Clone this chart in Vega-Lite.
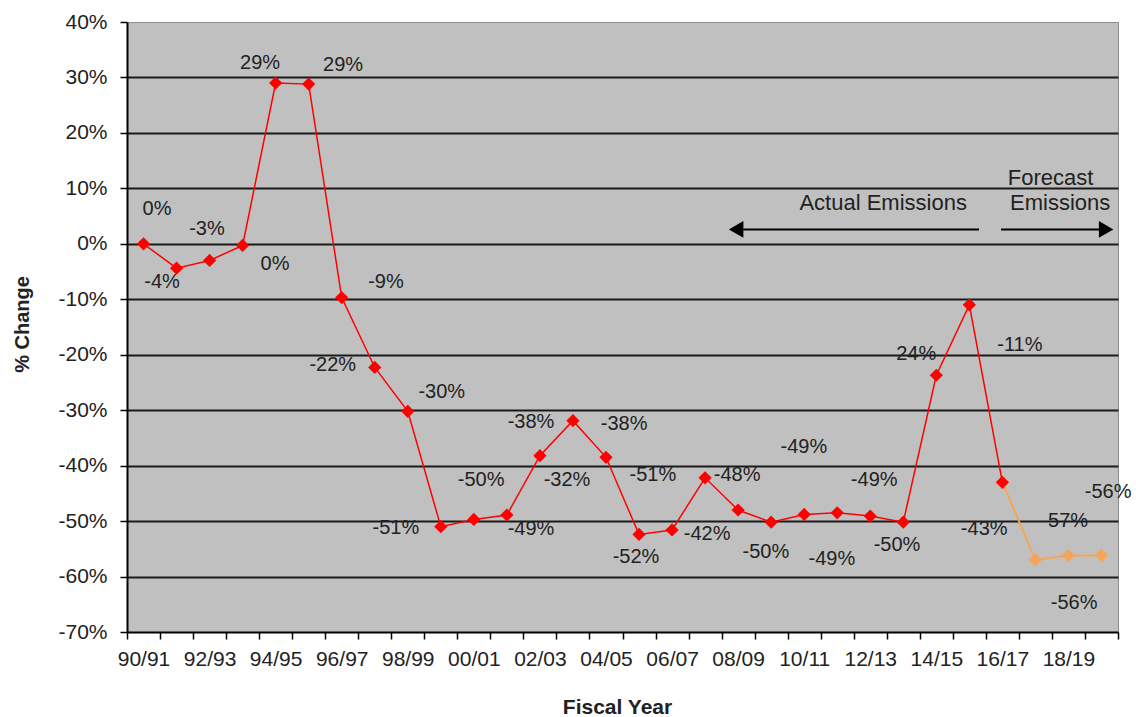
{
  "$schema": "https://vega.github.io/schema/vega-lite/v6.json",
  "width": 991,
  "height": 610,
  "autosize": {"type": "none"},
  "padding": {"left": 127, "top": 22, "right": 18, "bottom": 85},
  "background": "white",
  "config": {
    "view": {"fill": "#C0C0C0", "stroke": "#8C8C8C", "strokeWidth": 1},
    "font": "Liberation Sans"
  },
  "datasets": {
    "points": [
      {"idx": 0, "year": "90/91", "value": 0, "phase": "Actual"},
      {"idx": 1, "year": "91/92", "value": -4.4, "phase": "Actual"},
      {"idx": 2, "year": "92/93", "value": -3.0, "phase": "Actual"},
      {"idx": 3, "year": "93/94", "value": -0.3, "phase": "Actual"},
      {"idx": 4, "year": "94/95", "value": 29.0, "phase": "Actual"},
      {"idx": 5, "year": "95/96", "value": 28.8, "phase": "Actual"},
      {"idx": 6, "year": "96/97", "value": -9.7, "phase": "Actual"},
      {"idx": 7, "year": "97/98", "value": -22.3, "phase": "Actual"},
      {"idx": 8, "year": "98/99", "value": -30.2, "phase": "Actual"},
      {"idx": 9, "year": "99/00", "value": -51.0, "phase": "Actual"},
      {"idx": 10, "year": "00/01", "value": -49.7, "phase": "Actual"},
      {"idx": 11, "year": "01/02", "value": -48.9, "phase": "Actual"},
      {"idx": 12, "year": "02/03", "value": -38.2, "phase": "Actual"},
      {"idx": 13, "year": "03/04", "value": -31.9, "phase": "Actual"},
      {"idx": 14, "year": "04/05", "value": -38.5, "phase": "Actual"},
      {"idx": 15, "year": "05/06", "value": -52.4, "phase": "Actual"},
      {"idx": 16, "year": "06/07", "value": -51.6, "phase": "Actual"},
      {"idx": 17, "year": "07/08", "value": -42.2, "phase": "Actual"},
      {"idx": 18, "year": "08/09", "value": -48.0, "phase": "Actual"},
      {"idx": 19, "year": "09/10", "value": -50.2, "phase": "Actual"},
      {"idx": 20, "year": "10/11", "value": -48.8, "phase": "Actual"},
      {"idx": 21, "year": "11/12", "value": -48.5, "phase": "Actual"},
      {"idx": 22, "year": "12/13", "value": -49.1, "phase": "Actual"},
      {"idx": 23, "year": "13/14", "value": -50.2, "phase": "Actual"},
      {"idx": 24, "year": "14/15", "value": -23.7, "phase": "Actual"},
      {"idx": 25, "year": "15/16", "value": -11.0, "phase": "Actual"},
      {"idx": 26, "year": "16/17", "value": -43.0, "phase": "Actual"},
      {"idx": 27, "year": "17/18", "value": -57.0, "phase": "Forecast"},
      {"idx": 28, "year": "18/19", "value": -56.2, "phase": "Forecast"},
      {"idx": 29, "year": "19/20", "value": -56.2, "phase": "Forecast"}
    ],
    "labels": [
      {"idx": 0.41, "value": 6.2, "text": "0%"},
      {"idx": 0.56, "value": -6.8, "text": "-4%"},
      {"idx": 1.92, "value": 2.7, "text": "-3%"},
      {"idx": 3.98, "value": -3.7, "text": "0%"},
      {"idx": 3.53, "value": 32.6, "text": "29%"},
      {"idx": 6.04, "value": 32.3, "text": "29%"},
      {"idx": 7.34, "value": -6.8, "text": "-9%"},
      {"idx": 5.73, "value": -21.8, "text": "-22%"},
      {"idx": 7.64, "value": -51.3, "text": "-51%"},
      {"idx": 9.03, "value": -26.8, "text": "-30%"},
      {"idx": 10.22, "value": -42.5, "text": "-50%"},
      {"idx": 11.73, "value": -51.5, "text": "-49%"},
      {"idx": 11.73, "value": -32.2, "text": "-38%"},
      {"idx": 12.82, "value": -42.6, "text": "-32%"},
      {"idx": 14.55, "value": -32.5, "text": "-38%"},
      {"idx": 15.42, "value": -41.7, "text": "-51%"},
      {"idx": 14.91, "value": -56.5, "text": "-52%"},
      {"idx": 17.06, "value": -52.4, "text": "-42%"},
      {"idx": 17.97, "value": -41.6, "text": "-48%"},
      {"idx": 18.84, "value": -55.6, "text": "-50%"},
      {"idx": 19.99, "value": -36.7, "text": "-49%"},
      {"idx": 20.84, "value": -56.9, "text": "-49%"},
      {"idx": 22.12, "value": -42.6, "text": "-49%"},
      {"idx": 22.81, "value": -54.3, "text": "-50%"},
      {"idx": 23.39, "value": -19.9, "text": "24%"},
      {"idx": 26.53, "value": -18.3, "text": "-11%"},
      {"idx": 25.45, "value": -51.5, "text": "-43%"},
      {"idx": 27.99, "value": -49.9, "text": "57%"},
      {"idx": 29.2, "value": -44.8, "text": "-56%"},
      {"idx": 28.17, "value": -64.7, "text": "-56%"}
    ],
    "notes": [
      {"idx": 22.39, "value": 6.13, "text": "Actual Emissions"},
      {"idx": 27.46, "value": 10.6, "text": "Forecast"},
      {"idx": 27.75, "value": 6.13, "text": "Emissions"}
    ],
    "arrows": [
      {"idx": 17.94, "idx2": 25.29, "value": 2.6},
      {"idx": 25.96, "idx2": 29.14, "value": 2.6}
    ],
    "heads": [
      {"idx": 17.94, "value": 2.6, "shape": "triangle-left"},
      {"idx": 29.14, "value": 2.6, "shape": "triangle-right"}
    ]
  },
  "encoding": {
    "x": {
      "field": "idx",
      "type": "quantitative",
      "scale": {"domain": [-0.5, 29.5], "nice": false, "zero": false},
      "axis": {
        "title": "Fiscal Year",
        "values": [-0.5, 0, 0.5, 1, 1.5, 2, 2.5, 3, 3.5, 4, 4.5, 5, 5.5, 6, 6.5, 7, 7.5, 8, 8.5, 9, 9.5, 10, 10.5, 11, 11.5, 12, 12.5, 13, 13.5, 14, 14.5, 15, 15.5, 16, 16.5, 17, 17.5, 18, 18.5, 19, 19.5, 20, 20.5, 21, 21.5, 22, 22.5, 23, 23.5, 24, 24.5, 25, 25.5, 26, 26.5, 27, 27.5, 28, 28.5, 29, 29.5],
        "labelExpr": "(datum.value % 2 === 0 && datum.value >= 0) ? ['90/91','92/93','94/95','96/97','98/99','00/01','02/03','04/05','06/07','08/09','10/11','12/13','14/15','16/17','18/19'][datum.value / 2] : ''",
        "tickOpacity": {"condition": {"test": "datum.value % 1 !== 0", "value": 1}, "value": 0},
        "tickColor": "#000000",
        "tickWidth": 1.5,
        "tickSize": 7,
        "domainColor": "#000000",
        "domainWidth": 2,
        "grid": false,
        "labelFont": "Liberation Sans",
        "labelFontSize": 21,
        "labelColor": "#222222",
        "labelPadding": 9,
        "labelOverlap": false,
        "labelFlush": false,
        "labelBound": false,
        "titleFont": "Liberation Sans",
        "titleFontSize": 21,
        "titleFontWeight": "bold",
        "titleColor": "#222222",
        "titleX": 490,
        "titleY": 81,
        "titleBaseline": "alphabetic",
        "titleAlign": "center"
      }
    },
    "y": {
      "field": "value",
      "type": "quantitative",
      "scale": {"domain": [-70, 40], "nice": false, "zero": false},
      "axis": {
        "title": "% Change",
        "values": [-70, -60, -50, -40, -30, -20, -10, 0, 10, 20, 30, 40],
        "labelExpr": "datum.value + '%'",
        "grid": true,
        "gridColor": "#1a1a1a",
        "gridWidth": 2,
        "gridOpacity": {"condition": {"test": "datum.value === 40 || datum.value === -70", "value": 0}, "value": 1},
        "tickColor": "#000000",
        "tickSize": 7,
        "tickWidth": 1.5,
        "domainColor": "#000000",
        "domainWidth": 2,
        "labelFont": "Liberation Sans",
        "labelFontSize": 21,
        "labelColor": "#222222",
        "labelPadding": 13,
        "titleFont": "Liberation Sans",
        "titleFontSize": 20,
        "titleFontWeight": "bold",
        "titleColor": "#222222",
        "titleAngle": -90,
        "titleX": -99,
        "titleY": 302,
        "titleBaseline": "alphabetic",
        "titleAlign": "center"
      }
    }
  },
  "layer": [
    {
      "data": {"name": "points"},
      "transform": [{"filter": "datum.idx <= 26"}],
      "mark": {"type": "line", "color": "#FF0000", "strokeWidth": 1.5}
    },
    {
      "data": {"name": "points"},
      "transform": [{"filter": "datum.idx >= 26"}],
      "mark": {"type": "line", "color": "#F5A55A", "strokeWidth": 2}
    },
    {
      "data": {"name": "points"},
      "mark": {"type": "point", "shape": "diamond", "filled": true, "size": 175, "opacity": 1},
      "encoding": {
        "color": {"field": "phase", "type": "nominal", "scale": {"domain": ["Actual", "Forecast"], "range": ["#FF0000", "#F5A55A"]}, "legend": null}
      }
    },
    {
      "data": {"name": "labels"},
      "mark": {"type": "text", "font": "Liberation Sans", "fontSize": 20, "color": "#222222", "align": "center", "baseline": "middle"},
      "encoding": {"text": {"field": "text", "type": "nominal"}}
    },
    {
      "data": {"name": "notes"},
      "mark": {"type": "text", "font": "Liberation Sans", "fontSize": 22, "color": "#222222", "align": "center", "baseline": "alphabetic"},
      "encoding": {"text": {"field": "text", "type": "nominal"}}
    },
    {
      "data": {"name": "arrows"},
      "mark": {"type": "rule", "color": "#000000", "strokeWidth": 2},
      "encoding": {"x2": {"field": "idx2"}}
    },
    {
      "data": {"name": "heads"},
      "mark": {"type": "point", "filled": true, "size": 280, "color": "#000000", "opacity": 1},
      "encoding": {"shape": {"field": "shape", "type": "nominal", "scale": null}}
    }
  ]
}
